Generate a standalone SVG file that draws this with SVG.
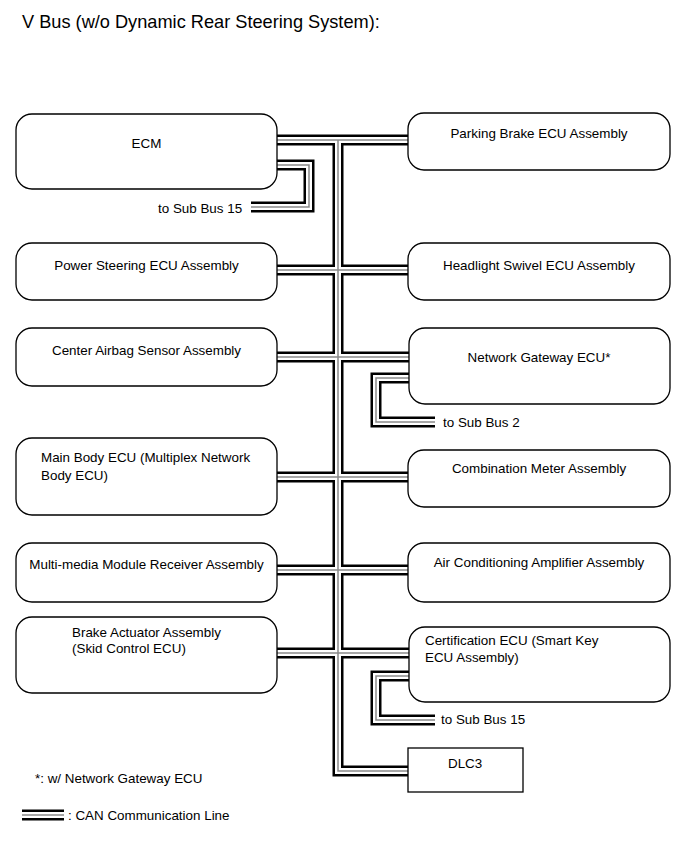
<svg xmlns="http://www.w3.org/2000/svg" width="689" height="853" viewBox="0 0 689 853">
<style>
text{font-family:"Liberation Sans",Arial,sans-serif;font-size:13.4px;fill:#000}
.title{font-size:18.2px}
.box{fill:#fff;stroke:#000;stroke-width:1.3}
.c{text-anchor:middle}
.lb{fill:none;stroke:#000;stroke-width:11;stroke-linejoin:miter}
.lw{fill:none;stroke:#fff;stroke-width:6;stroke-linejoin:miter}
.lg{fill:none;stroke:#8a8a8a;stroke-width:1.5;stroke-linejoin:miter}
</style>
<defs>
<g id="wires">
<path d="M277,140 H409"/>
<path d="M338,140 V771 H409"/>
<path d="M277,270 H409"/>
<path d="M277,357 H409"/>
<path d="M277,477 H409"/>
<path d="M277,570 H409"/>
<path d="M277,653 H409"/>
<path d="M277,165 H309 V207 H251"/>
<path d="M409,378 H376 V422 H435"/>
<path d="M409,676 H376 V720 H435"/>
<path d="M22,815 H64"/>
</g>
</defs>
<rect width="689" height="853" fill="#fff"/>
<text class="title" x="22" y="28">V Bus (w/o Dynamic Rear Steering System):</text>
<g id="connectors">
<use href="#wires" class="lb"/>
<use href="#wires" class="lw"/>
<use href="#wires" class="lg"/>
</g>
<g id="ecm"><rect class="box" x="16" y="114" width="261" height="75" rx="16"/><text class="c" x="146.5" y="148">ECM</text></g>
<g id="power-steering"><rect class="box" x="16" y="243" width="261" height="57" rx="16"/><text class="c" x="146.5" y="270">Power Steering ECU Assembly</text></g>
<g id="center-airbag"><rect class="box" x="16" y="328" width="261" height="58" rx="16"/><text class="c" x="146.5" y="355">Center Airbag Sensor Assembly</text></g>
<g id="main-body"><rect class="box" x="16" y="438" width="261" height="77" rx="16"/><text x="41" y="462">Main Body ECU (Multiplex Network</text><text x="41" y="480">Body ECU)</text></g>
<g id="multimedia"><rect class="box" x="16" y="543" width="261" height="59" rx="16"/><text class="c" x="146.5" y="569">Multi-media Module Receiver Assembly</text></g>
<g id="brake-actuator"><rect class="box" x="16" y="617" width="261" height="76" rx="16"/><text x="72" y="637">Brake Actuator Assembly</text><text x="72" y="653">(Skid Control ECU)</text></g>
<g id="parking-brake"><rect class="box" x="408" y="113" width="262" height="57" rx="16"/><text class="c" x="539" y="138">Parking Brake ECU Assembly</text></g>
<g id="headlight-swivel"><rect class="box" x="408" y="243" width="262" height="57" rx="16"/><text class="c" x="539" y="270">Headlight Swivel ECU Assembly</text></g>
<g id="network-gateway"><rect class="box" x="409" y="328" width="261" height="76" rx="16"/><text class="c" x="539" y="362">Network Gateway ECU*</text></g>
<g id="combination-meter"><rect class="box" x="408" y="450" width="262" height="57" rx="16"/><text class="c" x="539" y="473">Combination Meter Assembly</text></g>
<g id="air-conditioning"><rect class="box" x="408" y="543" width="262" height="59" rx="16"/><text class="c" x="539" y="567">Air Conditioning Amplifier Assembly</text></g>
<g id="certification"><rect class="box" x="409" y="627" width="261" height="75" rx="16"/><text x="425" y="645">Certification ECU (Smart Key</text><text x="425" y="662">ECU Assembly)</text></g>
<g id="dlc3"><rect class="box" x="408" y="748" width="115" height="44"/><text x="448" y="768">DLC3</text></g>
<text x="158" y="213">to Sub Bus 15</text>
<text x="443" y="427">to Sub Bus 2</text>
<text x="441" y="724">to Sub Bus 15</text>
<text x="35" y="783">*: w/ Network Gateway ECU</text>
<text x="68" y="820">: CAN Communication Line</text>
</svg>
